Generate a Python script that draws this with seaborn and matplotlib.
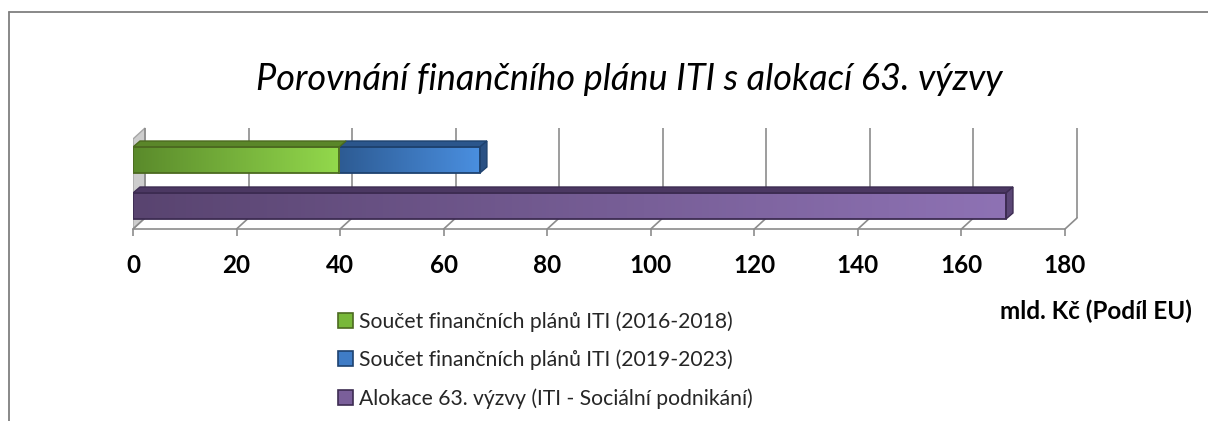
import numpy as np
import pandas as pd
import matplotlib
matplotlib.use("Agg")
import matplotlib.pyplot as plt
import seaborn as sns
from matplotlib.patches import Polygon, Patch
from matplotlib.lines import Line2D
from matplotlib.colors import LinearSegmentedColormap

# ---------------- data ----------------
rows = ["Finanční plány ITI", "Alokace 63. výzvy"]
plan_2016_2018 = [39.8]
plan_2019_2023 = [27.2]
alokace_63 = [168.6]
series_labels = [
    "Součet finančních plánů ITI (2016-2018)",
    "Součet finančních plánů ITI (2019-2023)",
    "Alokace 63. výzvy (ITI - Sociální podnikání)",
]
x_ticks = [0, 20, 40, 60, 80, 100, 120, 140, 160, 180]
title_text = "Porovnání finančního plánu ITI s alokací 63. výzvy"
unit_text = "mld. Kč (Podíl EU)"

# ---------------- style ----------------
sns.set_theme(style="white")
plt.rcParams['font.family'] = ['Lato', 'DejaVu Sans']

W, H = 1208, 421
fig = plt.figure(figsize=(W / 100, H / 100), dpi=100)
fig.patch.set_facecolor("white")

X0, X1 = 133, 1065
Y_BASE = 229
ROW_PX = 46
YB, YT = 1.5, -0.75
top_px = Y_BASE - (YB - YT) * ROW_PX
ax = fig.add_axes([X0 / W, 1 - Y_BASE / H, (X1 - X0) / W, (Y_BASE - top_px) / H])
ax.set_facecolor("none")

px_x = (X1 - X0) / (x_ticks[-1] - x_ticks[0])

def dxp(px):
    return px / px_x

def dyp(px):
    return px / ROW_PX

colors = {
    "green": dict(grad=("#5a8a2b", "#93d94c"), edge="#4c6a20", top="#5a8629", side="#4f7424"),
    "blue": dict(grad=("#2d5b93", "#4a8fe0"), edge="#1e426f", top="#2b568c", side="#2a5184"),
    "purple": dict(grad=("#594470", "#8e72b4"), edge="#3d2c52", top="#4b3862", side="#5a4675"),
}

# totals row (blue segment sits on top of green) and allocation row
df_main = pd.DataFrame({
    "radek": rows,
    "hodnota": [plan_2016_2018[0] + plan_2019_2023[0], alokace_63[0]],
})
df_green = pd.DataFrame({"radek": [rows[0]], "hodnota": [plan_2016_2018[0]]})

n0 = len(ax.patches)
sns.barplot(data=df_main, x="hodnota", y="radek", hue="radek", order=rows, hue_order=rows,
            palette={rows[0]: colors["blue"]["grad"][1], rows[1]: colors["purple"]["grad"][1]},
            orient="h", width=26 / 46, legend=False, errorbar=None, ax=ax)
main_patches = ax.patches[n0:]
n1 = len(ax.patches)
sns.barplot(data=df_green, x="hodnota", y="radek", order=rows,
            color=colors["green"]["grad"][1], orient="h", width=26 / 46,
            errorbar=None, ax=ax)
green_patches = ax.patches[n1:]

bars = []
for p in main_patches:
    cy = p.get_y() + p.get_height() / 2
    if abs(cy - 0) < 0.3:
        # blue segment starts where the 2016-2018 plan ends
        p.set_x(plan_2016_2018[0])
        p.set_width(plan_2019_2023[0])
        bars.append((p, "blue", 3))
    else:
        bars.append((p, "purple", 3))
for p in green_patches:
    if p.get_width() > 0:
        bars.append((p, "green", 4))

bdx, bdy = dxp(7), dyp(6)
for p, key, z in bars:
    c = colors[key]
    x0, y0, w, h = p.get_x(), p.get_y(), p.get_width(), p.get_height()
    cmap = LinearSegmentedColormap.from_list(key, list(c["grad"]))
    im = ax.imshow(np.linspace(0, 1, 256).reshape(1, -1), cmap=cmap, aspect="auto",
                   extent=[x0, x0 + w, y0 + h, y0], zorder=z, interpolation="bilinear")
    im.set_clip_path(p)
    p.set_facecolor("none")
    p.set_edgecolor(c["edge"])
    p.set_linewidth(1.3)
    p.set_zorder(z + 0.2)
    topf = Polygon([(x0, y0), (x0 + bdx, y0 - bdy), (x0 + w + bdx, y0 - bdy), (x0 + w, y0)],
                   closed=True, facecolor=c["top"], edgecolor=c["edge"], lw=1.0, zorder=z + 0.1)
    ax.add_patch(topf)
    if key != "green":
        side = Polygon([(x0 + w, y0), (x0 + w + bdx, y0 - bdy), (x0 + w + bdx, y0 + h - bdy),
                        (x0 + w, y0 + h)], closed=True, facecolor=c["side"],
                       edgecolor=c["edge"], lw=1.0, zorder=z + 0.1)
        ax.add_patch(side)

# ---------------- 3D frame: wall, grid, floor ----------------
gdx, gdy = dxp(12), dyp(11)
top_y = YB - dyp(Y_BASE - 128)
grid_c = "#8c8c8c"
wall = Polygon([(0, YB), (gdx, YB - gdy), (gdx, top_y), (0, top_y + gdy)], closed=True,
               facecolor="#cdcdcd", edgecolor="#a6a6a6", lw=1.0, zorder=1)
ax.add_patch(wall)
for t in x_ticks:
    ax.plot([t + gdx, t + gdx], [YB - gdy, top_y], color=grid_c, lw=1.2, zorder=1,
            solid_capstyle="butt", clip_on=False)
    ax.plot([t, t + gdx], [YB, YB - gdy], color=grid_c, lw=1.2, zorder=1, clip_on=False)
    ax.plot([t, t], [YB, YB + dyp(7)], color=grid_c, lw=1.2, zorder=1, clip_on=False,
            solid_capstyle="butt")
ax.plot([x_ticks[0], x_ticks[-1]], [YB, YB], color=grid_c, lw=1.2, zorder=1, clip_on=False)

ax.set_xlim(x_ticks[0], x_ticks[-1])
ax.set_ylim(YB, YT)
ax.set_xticks(x_ticks)
ax.set_xticklabels([str(t) for t in x_ticks], fontweight="bold", fontsize=17.5, color="black")
ax.tick_params(axis="x", length=0, pad=18)
ax.set_yticks([])
ax.set_xlabel("")
ax.set_ylabel("")
for s in ax.spines.values():
    s.set_visible(False)

# ---------------- texts ----------------
fig.text(629 / W, 1 - 79 / H, title_text, ha="center", va="center", fontsize=26,
         style="italic", color="black")
fig.text(1192 / W, 1 - 311 / H, unit_text, ha="right", va="center", fontsize=17.5,
         fontweight="bold", color="black")

handles = [
    Patch(facecolor="#78b83a", edgecolor=colors["green"]["edge"], lw=1.2),
    Patch(facecolor="#3f7cc6", edgecolor=colors["blue"]["edge"], lw=1.2),
    Patch(facecolor="#7a5f9a", edgecolor=colors["purple"]["edge"], lw=1.2),
]
fig.legend(handles, series_labels, loc="upper left", bbox_to_anchor=(338 / W, 1 - 311 / H),
           frameon=False, fontsize=15.2, handlelength=0.7, handleheight=0.7,
           handletextpad=0.3, labelspacing=0.85, borderaxespad=0, borderpad=0)

# outer border (top and left visible)
fig.add_artist(Line2D([9 / W, 1.0], [1 - 12 / H, 1 - 12 / H], transform=fig.transFigure,
                      color="#7f7f7f", lw=1.3))
fig.add_artist(Line2D([9 / W, 9 / W], [0, 1 - 12 / H], transform=fig.transFigure,
                      color="#7f7f7f", lw=1.3))

fig.savefig("out.png", dpi=100, facecolor="white")
